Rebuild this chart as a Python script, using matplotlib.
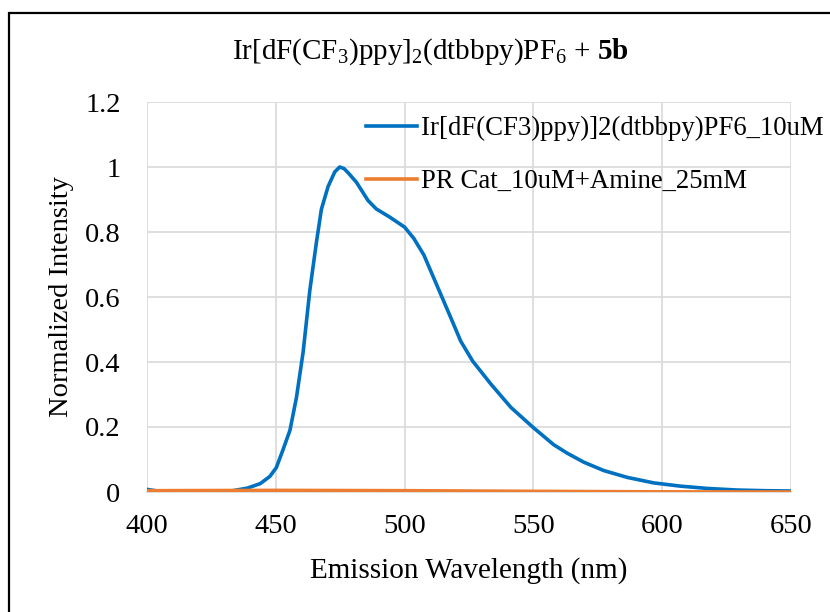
import matplotlib
matplotlib.use("Agg")
import matplotlib.pyplot as plt
from matplotlib.patches import Rectangle

# Emission spectrum of the Ir photocatalyst (10 uM)
ir_wavelength = [400, 405, 413, 420, 426, 432.6, 439, 444, 447.7, 450.2, 452.8, 455.5,
                 458, 460.6, 463.2, 465.8, 467.7, 470.3, 472.9, 474.8, 476.5, 478, 481.3,
                 485.8, 489, 494.2, 500, 503.6, 507.5, 510.8, 514.7, 518, 521.8,
                 526.4, 533.5, 541.3, 550, 553.9, 557.8, 563, 569.5, 577.3, 586.4,
                 596.7, 607.1, 617.5, 629.2, 640, 650]
ir_intensity = [0.008, 0.002, -0.003, -0.003, -0.002, 0.003, 0.012, 0.026, 0.048, 0.075,
                0.13, 0.19, 0.29, 0.43, 0.62, 0.77, 0.87, 0.94, 0.985, 1.0, 0.995, 0.983, 0.953,
                0.897, 0.871, 0.846, 0.815, 0.78, 0.729, 0.668, 0.596, 0.535, 0.464,
                0.403, 0.332, 0.26, 0.198, 0.172, 0.146, 0.12, 0.092, 0.066, 0.045,
                0.028, 0.018, 0.011, 0.006, 0.004, 0.003]

# Same catalyst with 25 mM amine quencher
pr_wavelength = [400, 450, 500, 550, 600, 650]
pr_intensity = [0.004, 0.005, 0.004, 0.002, 0.0005, 0.0]

ir_label = "Ir[dF(CF3)ppy)]2(dtbbpy)PF6_10uM"
pr_label = "PR Cat_10uM+Amine_25mM"
x_ticks = [400, 450, 500, 550, 600, 650]
y_ticks = [0, 0.2, 0.4, 0.6, 0.8, 1.0, 1.2]
y_tick_labels = ["0", "0.2", "0.4", "0.6", "0.8", "1", "1.2"]

plt.rcParams["font.family"] = ["Liberation Serif", "DejaVu Serif"]
plt.rcParams["mathtext.fontset"] = "custom"
plt.rcParams["mathtext.rm"] = "Liberation Serif"
plt.rcParams["mathtext.it"] = "Liberation Serif:italic"
plt.rcParams["mathtext.bf"] = "Liberation Serif:bold"

fig = plt.figure(figsize=(8.3, 6.12), dpi=100)
ax = fig.add_axes([147 / 830, 1 - 492 / 612, 644 / 830, 390 / 612])

ax.plot(ir_wavelength, ir_intensity, color="#0070C0", lw=2.6, label=ir_label,
        solid_joinstyle="round", zorder=3)
ax.plot(pr_wavelength, pr_intensity, color="#ED7D31", lw=2.6, label=pr_label, zorder=4)

ax.set_xlim(400, 650)
ax.set_ylim(0, 1.2)
ax.set_xticks(x_ticks)
ax.set_yticks(y_ticks)
ax.set_yticklabels(y_tick_labels)
ax.tick_params(axis="both", length=0, labelsize=20.5)
ax.tick_params(axis="y", pad=19)
ax.tick_params(axis="x", pad=16)
ax.grid(True, color="#D9D9D9", lw=1.2, zorder=0)
ax.set_axisbelow(True)
for side in ["left", "right", "top"]:
    ax.spines[side].set_visible(False)
ax.spines["bottom"].set_color("#D9D9D9")
ax.spines["bottom"].set_linewidth(1.2)

ax.set_xlabel("Emission Wavelength (nm)", fontsize=21, labelpad=13)
ax.set_ylabel("Normalized Intensity", fontsize=20.5, labelpad=8)

fig.text(430 / 830, 1 - 52 / 612,
         r"Ir[dF(CF$_3$)ppy]$_2$(dtbbpy)PF$_6$ + $\mathbf{5b}$",
         fontsize=21, ha="center", va="center")

fig.legend(loc="upper left", bbox_to_anchor=(366 / 830, 1 - 116 / 612),
           frameon=False, fontsize=19.3, handlelength=1.9, handletextpad=0.15,
           labelspacing=1.05, borderaxespad=0, borderpad=0)

# Outer chart-area frame
frame_top = 1 - 13 / 612
fig.patches.append(Rectangle((9 / 830, -0.2), 1.2, frame_top + 0.2,
                             transform=fig.transFigure, fill=False,
                             edgecolor="black", lw=1.6, figure=fig))

fig.savefig("out.png", dpi=100)
